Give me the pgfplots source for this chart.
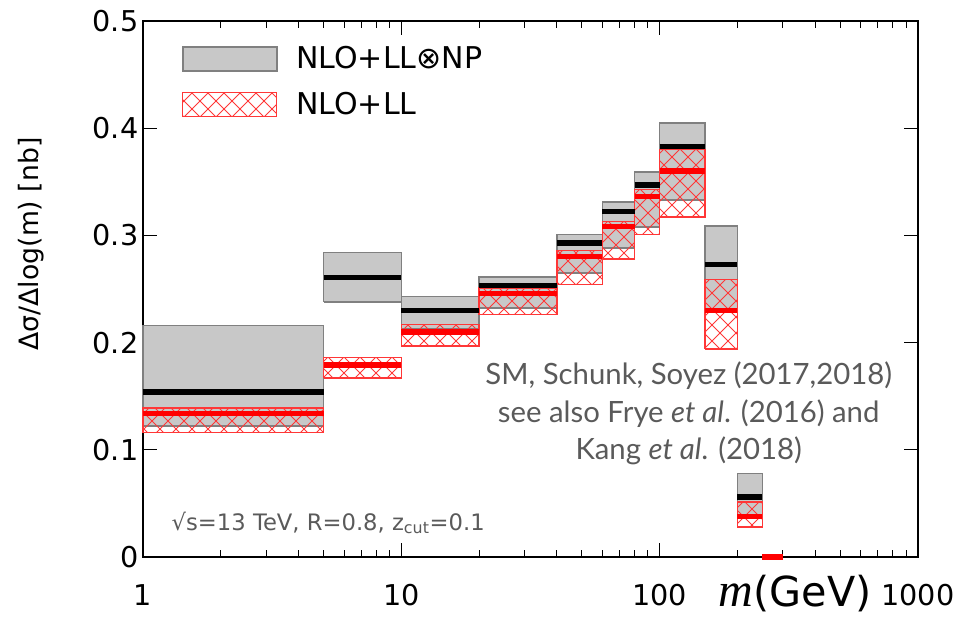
\documentclass[border=0pt]{standalone}
\usepackage{pgfplots}
\pgfplotsset{compat=1.18}
\usepackage{fontspec}
\setmainfont{DejaVu Sans}
\newfontfamily\gill{Lato}
\newfontfamily\serifit{Liberation Serif}
\usetikzlibrary{patterns.meta}
\definecolor{boxgray}{RGB}{200,200,200}
\definecolor{boxedge}{RGB}{128,128,128}
\definecolor{hred}{RGB}{255,55,55}
\definecolor{txtgray}{RGB}{90,90,90}
\tikzdeclarepattern{
  name=xhatch,
  type=uncolored,
  bounding box={(-0.5pt,-0.5pt) and (12.5pt,12.5pt)},
  tile size={(12pt,12pt)},
  code={
    \pgfsetlinewidth{0.6pt}
    \pgfpathmoveto{\pgfpoint{0pt}{0pt}}\pgfpathlineto{\pgfpoint{12pt}{12pt}}
    \pgfpathmoveto{\pgfpoint{0pt}{12pt}}\pgfpathlineto{\pgfpoint{12pt}{0pt}}
    \pgfusepath{stroke}
  }
}
\begin{document}
\begin{tikzpicture}
\begin{axis}[
  scale only axis, width=581.25pt, height=402pt,
  xmode=log, xmin=1, xmax=1000, ymin=0, ymax=0.5,
  xtick={1,10,100,1000}, xticklabels={1,10,100,1000},
  ytick={0,0.1,0.2,0.3,0.4,0.5}, yticklabels={0,0.1,0.2,0.3,0.4,0.5},
  tick label style={font=\fontsize{21.5}{24}\selectfont},
  xticklabel style={yshift=-17pt},
  major tick length=10.5pt, minor tick length=5pt,
  tick style={black, line width=0.75pt},
  axis line style={line width=1.1pt},
  unbounded coords=jump,
  clip=false,
  /pgf/number format/assume math mode=true,
  ylabel={Δσ/Δlog(m) [nb]},
  ylabel style={at={(axis description cs:-0.1445,0.584)}, anchor=center, font=\fontsize{20}{24}\selectfont},
  legend style={at={(axis description cs:0,1)}, anchor=north west, xshift=29pt, yshift=-17pt,
    draw=none, fill=none, font=\fontsize{22.5}{27}\selectfont, row sep=12pt,
    inner sep=0pt, /tikz/every odd column/.append style={column sep=12pt}},
  legend cell align=left,
]
\addlegendimage{legend image code/.code={\draw[fill=boxgray, draw=boxedge, line width=1.2pt] (0pt,-9pt) rectangle (70.5pt,9pt);}}
\addlegendentry{NLO+LL⊗NP}
\addlegendimage{legend image code/.code={\draw[pattern=xhatch, pattern color=hred, draw=hred, line width=1.1pt] (0pt,-9pt) rectangle (70.5pt,9pt);}}
\addlegendentry{NLO+LL}

% NLO+LL x NP uncertainty boxes
\addplot[forget plot, fill=boxgray, draw=boxedge, line width=1.2pt] coordinates {
(1,0.122) (5,0.122) (5,0.216) (1,0.216) (1,0.122) (1,nan)
(5,0.238) (10,0.238) (10,0.284) (5,0.284) (5,0.238) (5,nan)
(10,0.213) (20,0.213) (20,0.243) (10,0.243) (10,0.213) (10,nan)
(20,0.232) (40,0.232) (40,0.261) (20,0.261) (20,0.232) (20,nan)
(40,0.265) (60,0.265) (60,0.301) (40,0.301) (40,0.265) (40,nan)
(60,0.288) (80,0.288) (80,0.331) (60,0.331) (60,0.288) (60,nan)
(80,0.308) (100,0.308) (100,0.359) (80,0.359) (80,0.308) (80,nan)
(100,0.333) (150,0.333) (150,0.405) (100,0.405) (100,0.333) (100,nan)
(150,0.229) (200,0.229) (200,0.309) (150,0.309) (150,0.229) (150,nan)
(200,0.038) (250,0.038) (250,0.078) (200,0.078) (200,0.038)
};
% NLO+LL uncertainty boxes
\addplot[forget plot, pattern=xhatch, pattern color=hred, draw=hred, line width=1.1pt] coordinates {
(1,0.116) (5,0.116) (5,0.139) (1,0.139) (1,0.116) (1,nan)
(5,0.167) (10,0.167) (10,0.186) (5,0.186) (5,0.167) (5,nan)
(10,0.197) (20,0.197) (20,0.217) (10,0.217) (10,0.197) (10,nan)
(20,0.226) (40,0.226) (40,0.251) (20,0.251) (20,0.226) (20,nan)
(40,0.254) (60,0.254) (60,0.286) (40,0.286) (40,0.254) (40,nan)
(60,0.278) (80,0.278) (80,0.313) (60,0.313) (60,0.278) (60,nan)
(80,0.301) (100,0.301) (100,0.343) (80,0.343) (80,0.301) (80,nan)
(100,0.317) (150,0.317) (150,0.380) (100,0.380) (100,0.317) (100,nan)
(150,0.194) (200,0.194) (200,0.259) (150,0.259) (150,0.194) (150,nan)
(200,0.028) (250,0.028) (250,0.0515) (200,0.0515) (200,0.028)
};
% NLO+LL x NP central values
\addplot[forget plot, black, line width=4pt] coordinates {
(1,0.154) (5,0.154) (5,nan)
(5,0.261) (10,0.261) (10,nan)
(10,0.230) (20,0.230) (20,nan)
(20,0.253) (40,0.253) (40,nan)
(40,0.293) (60,0.293) (60,nan)
(60,0.322) (80,0.322) (80,nan)
(80,0.347) (100,0.347) (100,nan)
(100,0.383) (150,0.383) (150,nan)
(150,0.273) (200,0.273) (200,nan)
(200,0.056) (250,0.056) (250,nan)
(250,0) (300,0)
};
% NLO+LL central values
\addplot[forget plot, red, line width=4pt] coordinates {
(1,0.134) (5,0.134) (5,nan)
(5,0.179) (10,0.179) (10,nan)
(10,0.210) (20,0.210) (20,nan)
(20,0.246) (40,0.246) (40,nan)
(40,0.280) (60,0.280) (60,nan)
(60,0.308) (80,0.308) (80,nan)
(80,0.336) (100,0.336) (100,nan)
(100,0.360) (150,0.360) (150,nan)
(150,0.230) (200,0.230) (200,nan)
(200,0.038) (250,0.038) (250,nan)
(250,0) (300,0)
};

\node[align=center, font=\gill\fontsize{22}{28}\selectfont, text=txtgray] at (axis cs:129.6,0.134)
  {SM, Schunk, Soyez (2017,2018)\\see also Frye \textit{et al}. (2016) and\\Kang \textit{et al}. (2018)};
\node[anchor=base west, font=\fontsize{17}{20}\selectfont, text=txtgray] at (axis cs:1.239,0.0251)
  {√s=13 TeV, R=0.8, z\textsubscript{cut}=0.1};
\node[anchor=base west, font=\fontsize{31}{34}\selectfont, inner sep=0pt] at (axis cs:169.3,-0.0466)
  {{\serifit\itshape\fontsize{36}{36}\selectfont m}(GeV)};
\coordinate (ll) at (rel axis cs:0,0);
\coordinate (ur) at (rel axis cs:1,1);
\end{axis}
\pgfresetboundingbox
\path ([shift={(-107.25pt,-48pt)}]ll) rectangle ([shift={(35.25pt,15.75pt)}]ur);
\end{tikzpicture}
\end{document}
